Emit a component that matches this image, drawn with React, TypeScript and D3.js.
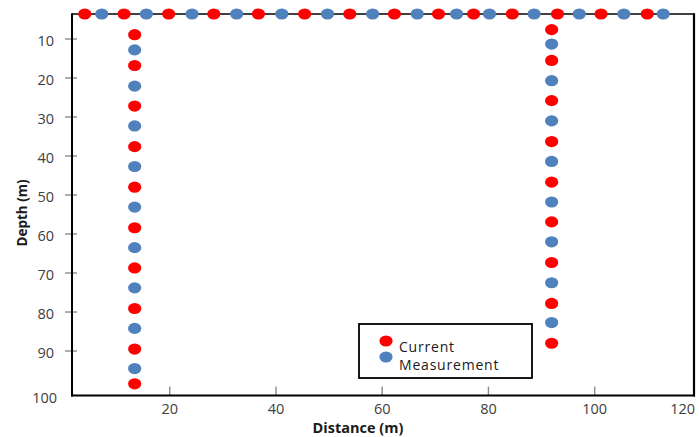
import React from "react";
import * as d3 from "d3";

// ---- data ----
const surfaceCurrentX = [4.0, 11.4, 19.8, 28.3, 36.7, 45.4, 53.9, 62.3, 70.6, 77.2, 84.5, 93.0, 101.2, 109.9];
const surfaceMeasX = [7.2, 15.6, 24.2, 32.6, 41.1, 49.7, 58.2, 66.6, 74.0, 80.2, 88.6, 97.1, 105.5, 112.9];
const boreholeX = [13.4, 91.9];
const leftCurrentDepth = [8.9, 16.8, 27.2, 37.6, 48.0, 58.4, 68.7, 79.1, 89.5, 98.4];
const leftMeasDepth = [12.8, 22.1, 32.3, 42.7, 53.1, 63.5, 73.8, 84.2, 94.5];
const rightCurrentDepth = [7.6, 15.5, 25.8, 36.3, 46.7, 56.9, 67.3, 77.8, 88.0];
const rightMeasDepth = [11.3, 20.7, 31.0, 41.4, 51.8, 62.0, 72.5, 82.7];
const xTicks = [20, 40, 60, 80, 100];
const yTicks = [10, 20, 30, 40, 50, 60, 70, 80, 90];
const xEndLabel = "120";
const yEndLabel = "100";
const xDomain = [1.6, 118.7];
const yDomain = [3.6, 101.4];

const W = 699;
const H = 437;
const L = 72, R = 694, T = 14, B = 395.5;

const RED = "#FF0000";
const BLUE = "#4F81BD";
const FONT = "'Open Sans', 'Noto Sans', sans-serif";

export default function App() {
  const x = d3.scaleLinear().domain(xDomain).range([L, R]);
  const y = d3.scaleLinear().domain(yDomain).range([T, B]);
  const surfaceY = y(yDomain[0]);

  const dots: { cx: number; cy: number; c: string }[] = [];
  surfaceCurrentX.forEach((v) => dots.push({ cx: x(v), cy: surfaceY, c: RED }));
  surfaceMeasX.forEach((v) => dots.push({ cx: x(v), cy: surfaceY, c: BLUE }));
  leftCurrentDepth.forEach((v) => dots.push({ cx: x(boreholeX[0]), cy: y(v), c: RED }));
  leftMeasDepth.forEach((v) => dots.push({ cx: x(boreholeX[0]), cy: y(v), c: BLUE }));
  rightCurrentDepth.forEach((v) => dots.push({ cx: x(boreholeX[1]), cy: y(v), c: RED }));
  rightMeasDepth.forEach((v) => dots.push({ cx: x(boreholeX[1]), cy: y(v), c: BLUE }));

  return (
    <svg width={W} height={H} style={{ position: "absolute", left: 0, top: 0, background: "#fff" }}>
      {/* y ticks */}
      {yTicks.map((t) => (
        <g key={"y" + t}>
          <line x1={L - 7} x2={L + 5} y1={y(t)} y2={y(t)} stroke="#8c8c8c" strokeWidth={1.4} />
          <text x={54} y={y(t) + 3.5} textAnchor="end" dominantBaseline="middle" fontFamily={FONT} fontSize={14.5} fill="#404040">
            {t}
          </text>
        </g>
      ))}
      <text x={57} y={B + 4} textAnchor="end" dominantBaseline="middle" fontFamily={FONT} fontSize={14.5} fill="#404040">
        {yEndLabel}
      </text>
      {/* x ticks */}
      {xTicks.map((t) => (
        <g key={"x" + t}>
          <line x1={x(t)} x2={x(t)} y1={B - 9} y2={B} stroke="#8c8c8c" strokeWidth={1.4} />
          <text x={x(t)} y={414} textAnchor="middle" fontFamily={FONT} fontSize={14.5} fill="#404040">
            {t}
          </text>
        </g>
      ))}
      <text x={R + 1} y={414} textAnchor="end" fontFamily={FONT} fontSize={14.5} fill="#404040">
        {xEndLabel}
      </text>
      {/* frame */}
      <line x1={L} x2={R} y1={T} y2={T} stroke="#000" strokeWidth={1.6} />
      <line x1={L} x2={L} y1={T - 0.8} y2={B + 1} stroke="#000" strokeWidth={2} />
      <line x1={R} x2={R} y1={T - 0.8} y2={B + 1} stroke="#000" strokeWidth={2.2} />
      <line x1={L - 1} x2={R + 1} y1={B} y2={B} stroke="#000" strokeWidth={2} />
      {/* dots */}
      {dots.map((d, i) => (
        <ellipse key={i} cx={d.cx} cy={d.cy} rx={6.6} ry={5.6} fill={d.c} />
      ))}
      {/* axis titles */}
      <text x={358} y={433} textAnchor="middle" fontFamily={FONT} fontWeight="bold" fontSize={14.5} fill="#1a1a1a">
        Distance (m)
      </text>
      <text
        transform={`translate(27,213) rotate(-90)`}
        textAnchor="middle"
        fontFamily={FONT}
        fontWeight="bold"
        fontSize={13.5}
        fill="#1a1a1a"
      >
        Depth (m)
      </text>
      {/* legend */}
      <rect x={359} y={324} width={173} height={54} fill="#fff" stroke="#000" strokeWidth={1.8} />
      <ellipse cx={386} cy={341} rx={6.6} ry={5.6} fill={RED} />
      <ellipse cx={386} cy={357} rx={6.6} ry={5.6} fill={BLUE} />
      <text x={399} y={352} fontFamily={FONT} fontSize={14} letterSpacing={0.8} fill="#1a1a1a">
        Current
      </text>
      <text x={399} y={370} fontFamily={FONT} fontSize={14} letterSpacing={0.8} fill="#1a1a1a">
        Measurement
      </text>
    </svg>
  );
}
